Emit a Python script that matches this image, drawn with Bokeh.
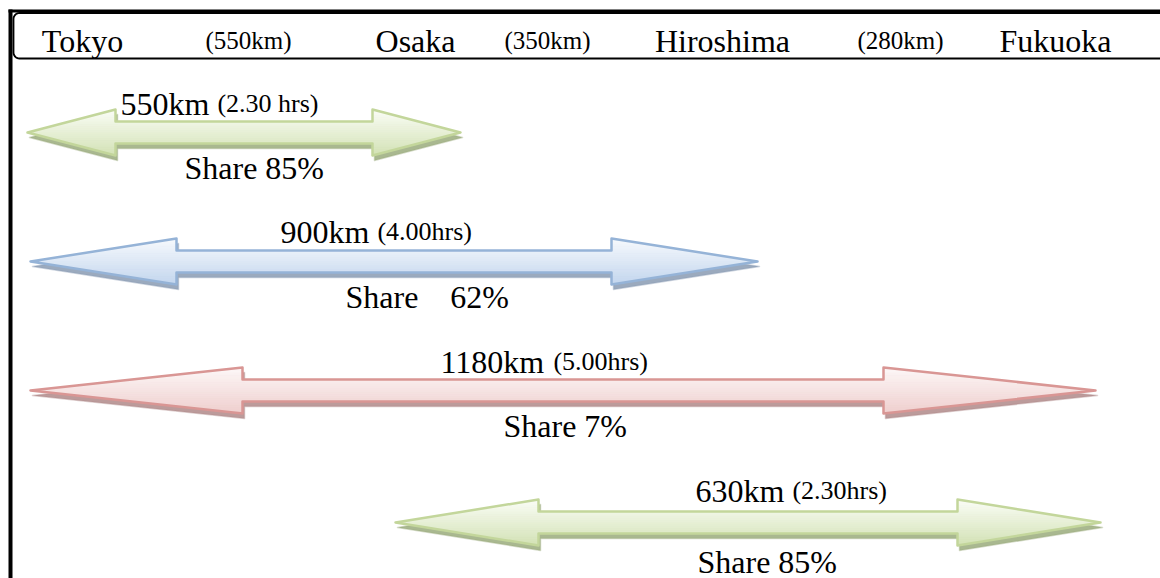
import numpy as np
from bokeh.plotting import figure
from bokeh.models import Range1d
from bokeh.core.properties import value
from bokeh.embed import file_html
from bokeh.resources import INLINE

# ---------------- data ----------------
cities = ["Tokyo", "Osaka", "Hiroshima", "Fukuoka"]
segment_km = [550, 350, 280]

route_from = ["Tokyo", "Tokyo", "Tokyo", "Osaka"]
route_to = ["Osaka", "Hiroshima", "Fukuoka", "Fukuoka"]
route_km = [550, 900, 1180, 630]
route_time = ["(2.30 hrs)", "(4.00hrs)", "(5.00hrs)", "(2.30hrs)"]
route_share = [85, 62, 7, 85]
share_gap = [1, 4, 1, 1]          # spaces between "Share" and value, as printed
route_theme = ["green", "blue", "red", "green"]

# ---------------- layout (screen px) ----------------
W, H = 1160, 578
city_x = [82, 415, 722, 1055]
seg_x = [248, 547, 900]
header_base = 40

arrow_left = [27, 30, 30, 395]
arrow_right = [460, 757, 1095, 1100]
arrow_y = [132, 261, 390, 522]
head_len = [88, 146, 212, 143]
head_half = 23
shaft_half = 11
label_left = [120, 280, 440, 695]
label_dy = [-29, -30, -29, -32]
share_left = [184, 345, 503, 697]
share_dy = [35, 35, 35, 39]

FONT = value("Liberation Serif")
BIG, SMALL, HEAD_SMALL = 32, 26, 25

THEMES = {
    "green": dict(line="#c3d69b", top="#fbfdf7", bottom="#d3e2b6", shadow="#9aab7c"),
    "blue": dict(line="#95b3d7", top="#f8fafd", bottom="#c3d6ee", shadow="#8a9bb3"),
    "red": dict(line="#d99694", top="#fdf8f8", bottom="#efcfce", shadow="#b08a8a"),
}

WIDTHS = {**{d: 0.5 for d in "0123456789"}, " ": 0.25, "(": 0.333, ")": 0.333,
          ".": 0.25, "k": 0.5, "m": 0.778, "h": 0.5, "r": 0.333, "s": 0.389,
          "S": 0.556, "a": 0.444, "e": 0.444, "%": 0.833}


def text_width(s, size):
    return sum(WIDTHS.get(c, 0.5) for c in s) * size


def hex2rgb(h):
    h = h.lstrip("#")
    return np.array([int(h[i:i + 2], 16) for i in (0, 2, 4)], dtype=float)


def mix(c1, c2, t):
    c = hex2rgb(c1) * (1 - t) + hex2rgb(c2) * t
    return "#%02x%02x%02x" % tuple(int(round(v)) for v in c)


def outline(xl, xr, yc, L, hh, hs):
    xs = [xl, xl + L, xl + L, xr - L, xr - L, xr, xr - L, xr - L, xl + L, xl + L, xl]
    ys = [yc, yc - hh, yc - hs, yc - hs, yc - hh, yc, yc + hh, yc + hs, yc + hs, yc + hh, yc]
    return xs, ys


def bands(xl, xr, yc, L, hh, hs, n=24):
    ys = np.unique(np.round(np.concatenate(
        [np.linspace(yc - hh, yc + hh, n + 1), [yc - hs, yc + hs, yc]]), 6))
    out = []
    for ya, yb in zip(ys[:-1], ys[1:]):
        ym = 0.5 * (ya + yb)
        da, db = abs(ya - yc), abs(yb - yc)
        la, lb = xl + L * da / hh, xl + L * db / hh
        ra, rb = xr - L * da / hh, xr - L * db / hh
        t = (ym - (yc - hh)) / (2 * hh)
        if abs(ym - yc) < hs:
            out.append(([la, ra, rb, lb], [ya, ya, yb, yb], t))
        else:
            out.append(([la, xl + L, xl + L, lb], [ya, ya, yb, yb], t))
            out.append(([xr - L, ra, rb, xr - L], [ya, ya, yb, yb], t))
    return out


p = figure(width=W, height=H, x_range=Range1d(0, W), y_range=Range1d(H, 0),
           output_backend="svg", toolbar_location=None, min_border=0,
           x_axis_type=None, y_axis_type=None)
p.outline_line_color = None
p.grid.visible = False
p.background_fill_color = "white"
p.border_fill_color = "white"

# ---------------- frame / header ----------------
p.line([8, W], [10.5, 10.5], line_color="black", line_width=3)
p.line([10, 10], [9, H], line_color="black", line_width=4)
r = 6
a1 = np.linspace(np.pi, np.pi / 2, 8)
a2 = np.linspace(np.pi * 1.5, np.pi, 8)
fx = list(13 + r + r * np.cos(a2))
fy = list(58 - r - r * np.sin(a2))
tx = list(13 + r + r * np.cos(a1))
ty = list(12.5 + r - r * np.sin(a1))
p.line([W] + fx + tx + [W], [58] + fy + ty + [12.5],
       line_color="black", line_width=1.8)

p.text(x=city_x, y=[header_base] * len(cities), text=cities, text_font=FONT,
       text_font_size=f"{BIG}px", text_align="center", text_baseline="alphabetic",
       text_color="black")
p.text(x=seg_x, y=[header_base] * len(segment_km), text=[f"({k}km)" for k in segment_km],
       text_font=FONT, text_font_size=f"{HEAD_SMALL}px", text_align="center",
       text_baseline="alphabetic", text_color="black")

# ---------------- arrows ----------------
for i in range(len(route_km)):
    th = THEMES[route_theme[i]]
    xl, xr, yc, L = arrow_left[i], arrow_right[i], arrow_y[i], head_len[i]
    sx, sy = outline(xl, xr, yc, L, head_half, shaft_half)
    # drop shadow
    p.patch([x + 2 for x in sx], [y + 5 for y in sy], fill_color=th["shadow"],
            fill_alpha=0.85, line_color=th["shadow"], line_alpha=0.4, line_width=1.5,
            line_join="round")
    # gradient body
    bl = bands(xl, xr, yc, L, head_half, shaft_half)
    cols = [mix(th["top"], th["bottom"], t) for _, _, t in bl]
    p.patches(xs=[b[0] for b in bl], ys=[b[1] for b in bl], fill_color=cols,
              line_color=cols, line_width=1, line_join="round")
    # outline
    p.patch(sx, sy, fill_color=None, line_color=th["line"], line_width=2.5,
            line_join="round")

    big = f"{route_km[i]}km"
    y_lab = yc + label_dy[i]
    p.text(x=[label_left[i]], y=[y_lab], text=[big], text_font=FONT,
           text_font_size=f"{BIG}px", text_baseline="alphabetic", text_color="black")
    p.text(x=[label_left[i] + text_width(big + " ", BIG)], y=[y_lab], text=[route_time[i]],
           text_font=FONT, text_font_size=f"{SMALL}px", text_baseline="alphabetic",
           text_color="black")
    share = "Share" + "\u00a0" * (share_gap[i] - 1) + " " + f"{route_share[i]}%"
    p.text(x=[share_left[i]], y=[yc + share_dy[i]], text=[share], text_font=FONT,
           text_font_size=f"{BIG}px", text_baseline="alphabetic", text_color="black")

open("out.html", "w").write(file_html(p, INLINE))
